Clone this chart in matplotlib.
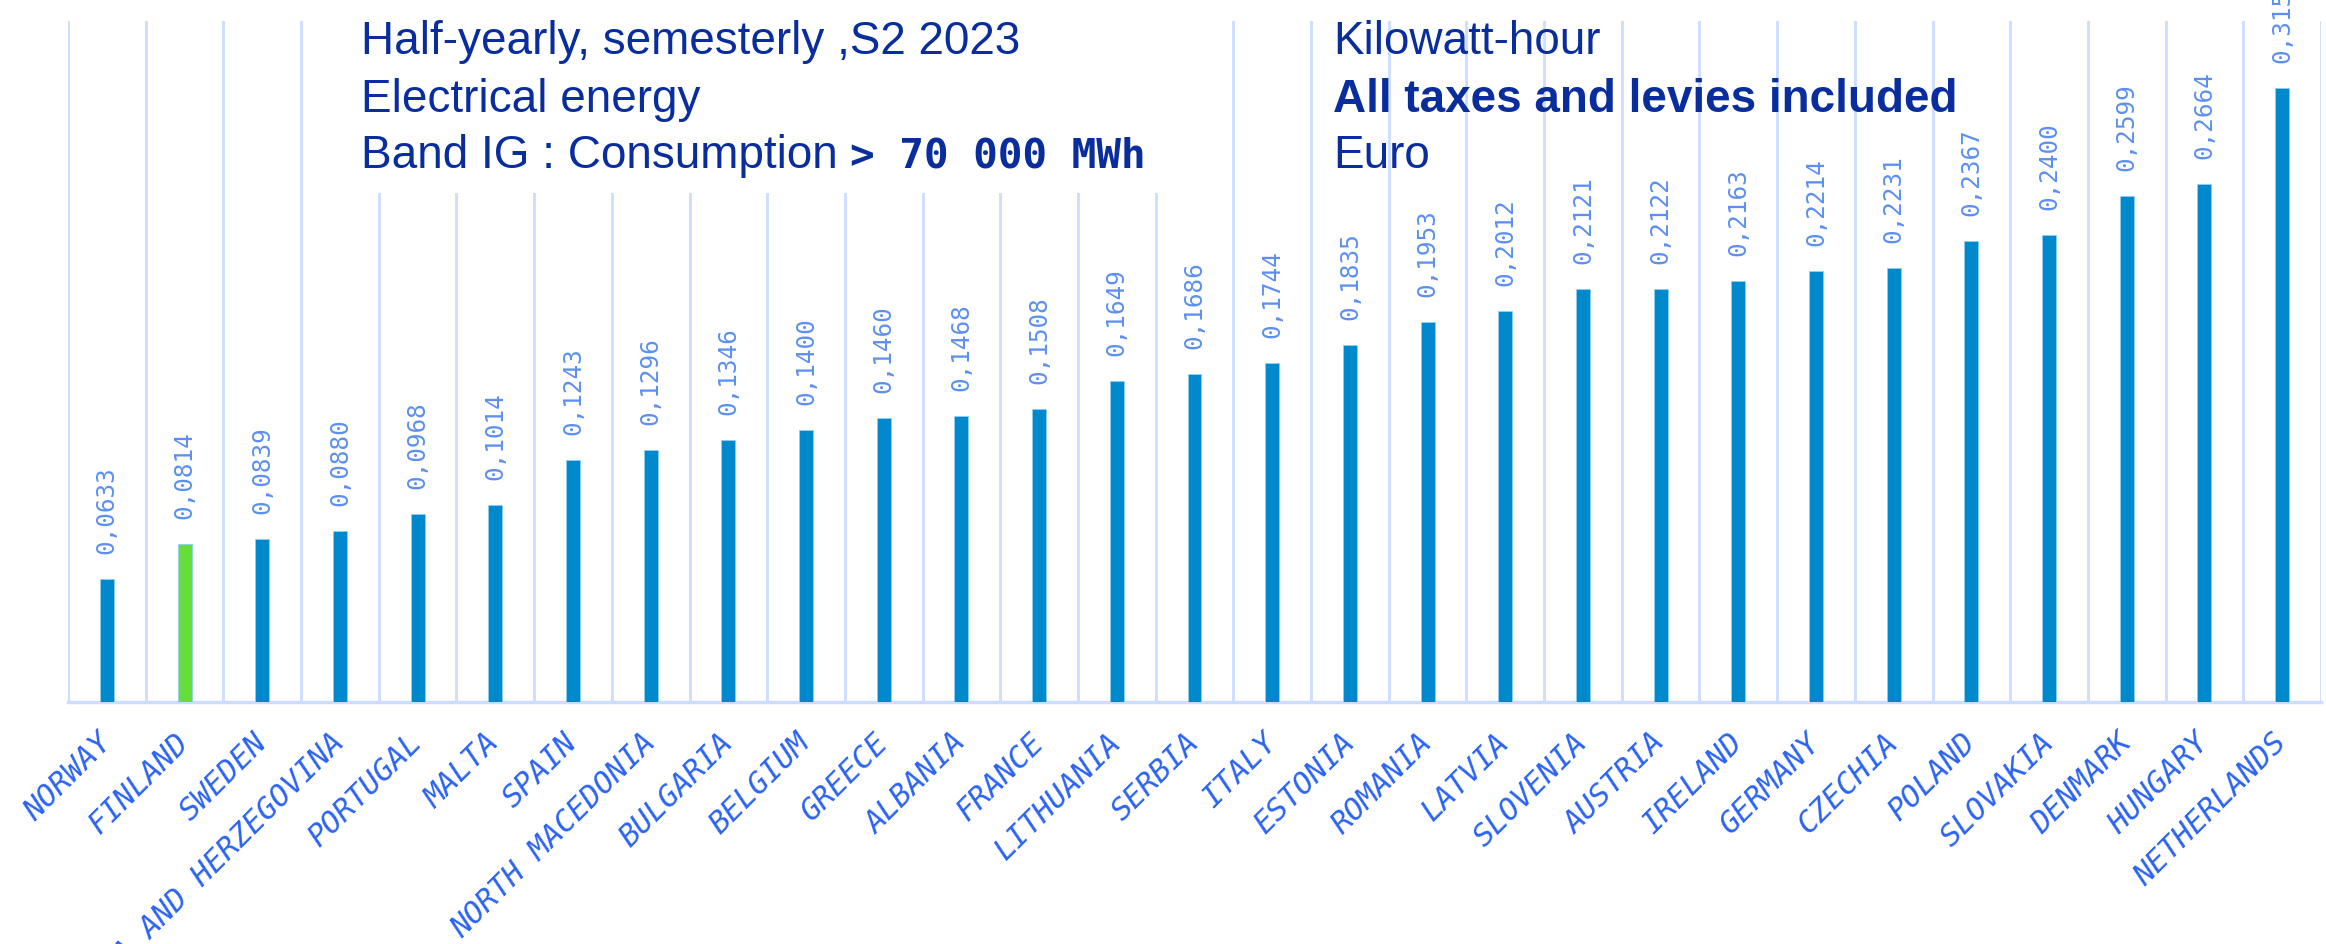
import matplotlib
matplotlib.use("Agg")
import matplotlib.pyplot as plt
from matplotlib.patches import Rectangle
import numpy as np

countries = ["NORWAY", "FINLAND", "SWEDEN", "BOSNIA AND HERZEGOVINA", "PORTUGAL", "MALTA",
             "SPAIN", "NORTH MACEDONIA", "BULGARIA", "BELGIUM", "GREECE", "ALBANIA", "FRANCE",
             "LITHUANIA", "SERBIA", "ITALY", "ESTONIA", "ROMANIA", "LATVIA", "SLOVENIA",
             "AUSTRIA", "IRELAND", "GERMANY", "CZECHIA", "POLAND", "SLOVAKIA", "DENMARK",
             "HUNGARY", "NETHERLANDS"]
values = [0.0633, 0.0814, 0.0839, 0.0880, 0.0968, 0.1014, 0.1243, 0.1296, 0.1346, 0.1400,
          0.1460, 0.1468, 0.1508, 0.1649, 0.1686, 0.1744, 0.1835, 0.1953, 0.2012, 0.2121,
          0.2122, 0.2163, 0.2214, 0.2231, 0.2367, 0.2400, 0.2599, 0.2664, 0.3154]
highlight = "FINLAND"

title_left = ["Half-yearly, semesterly ,S2 2023", "Electrical energy", "Band IG : Consumption "]
title_left_bold = "> 70 000 MWh"
title_right = ["Kilowatt-hour", "All taxes and levies included", "Euro"]

W, H = 2326, 944
fig = plt.figure(figsize=(W / 100, H / 100), dpi=100)
ax = fig.add_axes([68 / W, 1 - 702 / H, (2321 - 68) / W, (702 - 21) / H])

BAR = "#0088CC"
GREEN = "#66DD3A"
GRID = "#CCDDFF"
LABEL = "#5C8FF0"
XLAB = "#2A62F2"
TITLE = "#0A2D9E"

x = np.arange(len(countries))
colors = [GREEN if c == highlight else BAR for c in countries]
ax.bar(x, values, width=0.18, color=colors, edgecolor="#8FD0F0", linewidth=0.6, zorder=3)

ax.set_xlim(-0.5, len(countries) - 0.5)
ax.set_ylim(0, 0.35)
ax.set_yticks([])
ax.set_xticks(x)
ax.set_xticklabels(countries, rotation=45, ha="right", va="center", rotation_mode="anchor",
                   family="DejaVu Sans Mono", style="oblique", fontsize=22, color=XLAB)
ax.tick_params(axis="x", length=0, pad=26)
ax.set_xticks(np.arange(-0.5, len(countries), 1.0), minor=True)
ax.tick_params(axis="x", which="minor", length=0)
ax.grid(True, which="minor", axis="x", color=GRID, linewidth=2, zorder=0)
ax.grid(False, which="major")
for s in ["top", "right", "left"]:
    ax.spines[s].set_visible(False)
ax.spines["bottom"].set_color(GRID)
ax.spines["bottom"].set_linewidth(2.5)

for xi, v in zip(x, values):
    ax.annotate(f"{v:.4f}".replace(".", ","), (xi, v), xytext=(0, 18), textcoords="offset points",
                rotation=90, ha="center", va="bottom", fontsize=17.5, color=LABEL,
                family="DejaVu Sans Mono", annotation_clip=False)

# white box behind left title block
fig.add_artist(Rectangle((340 / W, 1 - 193 / H), (1190 - 340) / W, 193 / H,
                         transform=fig.transFigure, facecolor="white", edgecolor="none", zorder=1))

baselines = [54, 112, 168]
fam = ["Liberation Sans", "DejaVu Sans"]
t_last = None
for txt, b in zip(title_left, baselines):
    t_last = fig.text(361 / W, 1 - b / H, txt, fontsize=33, family=fam, color=TITLE,
                      ha="left", va="baseline", zorder=5)
for i, (txt, b) in enumerate(zip(title_right, baselines)):
    fig.text(1333 / W, 1 - b / H, txt, fontsize=33, family=fam, color=TITLE,
             ha="left", va="baseline", fontweight="bold" if i == 1 else "normal", zorder=5)

fig.canvas.draw()
bb = t_last.get_window_extent(renderer=fig.canvas.get_renderer())
fig.text(bb.x1 / W, 1 - baselines[2] / H, title_left_bold, fontsize=29.5, family="DejaVu Sans Mono",
         fontweight="bold", color=TITLE, ha="left", va="baseline", zorder=5)

fig.savefig("out.png", dpi=100)
